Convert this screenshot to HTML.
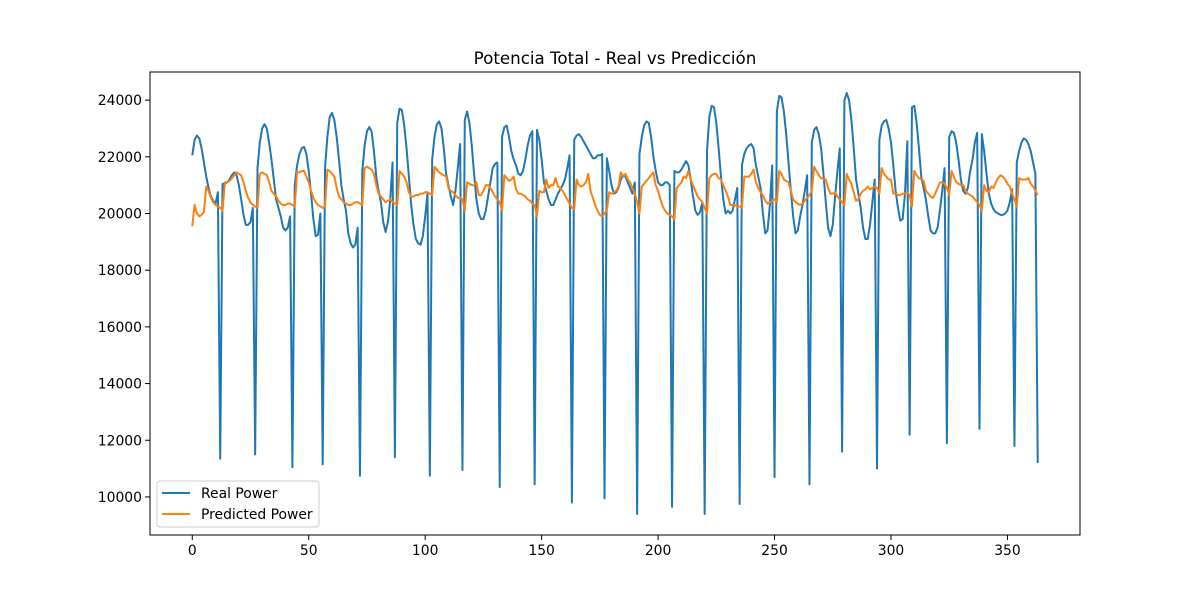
<!DOCTYPE html>
<html><head><meta charset="utf-8"><style>
body{margin:0;background:#fff}
svg text{font-family:"DejaVu Sans","Liberation Sans",sans-serif;fill:#000}
</style></head><body>
<svg id="chart" width="1200" height="600" xmlns="http://www.w3.org/2000/svg">
<rect width="1200" height="600" fill="#fff"/>
<text x="615" y="64" font-size="16.7" text-anchor="middle">Potencia Total - Real vs Predicción</text>
<g id="marks"></g>
<rect x="150" y="72" width="930" height="463" fill="none" stroke="#000" stroke-width="1"/>
<g id="axes"></g>
<g>
<rect x="157" y="481" width="162" height="46" rx="3" fill="#fff" fill-opacity="0.8" stroke="#ccc"/>
<line x1="162" y1="493" x2="190" y2="493" stroke="#1f77b4" stroke-width="2"/>
<text x="201" y="498" font-size="13.9">Real Power</text>
<line x1="162" y1="514" x2="190" y2="514" stroke="#ff7f0e" stroke-width="2"/>
<text x="201" y="519" font-size="13.9">Predicted Power</text>
</g>
</svg>
<script>
const realPower = [
22050,22600,22750,22650,22300,21800,21300,20900,20600,20450,20350,20750,11350,
21050,21050,21100,21200,21350,21450,21350,21000,20500,19950,19600,19600,19700,20200,11500,
21600,22500,23000,23150,23000,22500,21900,21200,20500,20200,19900,19500,19400,19500,19900,11050,
21000,21700,22100,22300,22350,22100,21500,20700,19800,19200,19250,20000,11150,
21600,22700,23400,23550,23300,22700,21900,21000,20500,20100,19300,18950,18800,18900,19500,10750,
21500,22400,22900,23050,22900,22200,21300,20800,20400,19700,19350,19700,20500,21800,11400,
23200,23700,23650,23100,22300,21300,20300,19600,19100,18950,18900,19200,19900,20700,10750,
21900,22700,23150,23250,23000,22300,21400,21000,20600,20300,20800,21600,22450,10950,
23300,23600,23200,22400,21400,20500,20000,19800,19800,20100,20600,21100,21600,21750,21800,10350,
22700,23050,23100,22700,22200,21900,21700,21400,21350,21500,21900,22400,22750,22900,10450,
22950,22600,21900,21100,20800,20500,20300,20300,20500,20700,20850,21000,21200,21600,22050,9800,
22600,22750,22800,22700,22550,22400,22250,22100,21950,21950,22050,22050,22100,9950,
21950,21500,21000,20700,20750,20900,21200,21350,21300,21100,20900,20700,21100,9400,
22100,22700,23100,23250,23200,22700,22000,21500,21100,21000,21000,21100,21100,21000,9650,
21500,21450,21450,21550,21700,21850,21700,21200,20600,20100,19950,20050,20400,9400,
22200,23400,23800,23750,23200,22300,21300,20500,20000,20100,20000,20100,20500,20900,9750,
21700,22100,22300,22400,22450,22300,21700,21300,20900,20000,19300,19400,20300,21700,10700,
23600,24150,24100,23600,22800,21800,20800,19900,19300,19400,19900,20300,20800,21350,10450,
22500,22950,23050,22800,22300,21400,20400,19500,19200,19600,20600,21500,22300,11600,
24000,24250,24000,23300,22300,21200,20700,20200,19500,19100,19100,19600,20400,21200,11000,
22600,23100,23250,23300,23000,22500,21700,20800,20200,19750,19800,20700,22550,12200,
23750,23800,23200,22300,21300,20900,20500,19900,19400,19300,19300,19500,20100,20800,21600,11900,
22700,22900,22850,22500,21900,21200,20800,20700,20900,21500,21900,22500,22850,12400,
22800,22200,21400,20700,20350,20150,20050,20000,19950,19950,20000,20100,20400,20850,11800,
21800,22200,22500,22650,22600,22450,22200,21800,21400,11200];
const predictedPower = [
19550,20300,20000,19900,19950,20050,20950,20800,20550,20400,20300,20250,20200,20100,
21100,21100,21150,21250,21350,21450,21400,21350,21100,20800,20550,20400,20300,20250,20200,
21400,21450,21400,21350,21100,20800,20700,20600,20450,20350,20300,20300,20350,20350,20300,20250,
21450,21450,21500,21500,21300,21100,20800,20550,20400,20300,20250,20200,20250,
21550,21500,21400,21300,20900,20600,20500,20400,20350,20300,20300,20350,20400,20400,20350,20300,
21600,21650,21600,21550,21400,21000,20700,20600,20500,20400,20450,20500,20400,20350,20300,
21500,21400,21300,21100,20750,20600,20600,20650,20650,20700,20700,20750,20750,20700,20650,
21650,21550,21450,21400,21350,21300,20900,20800,20750,20650,20550,20550,20500,20100,
21100,21050,21000,21000,21100,20650,20650,20800,21000,21000,20900,20750,20600,20500,20400,20100,
21350,21250,21150,21200,21300,20850,20700,20700,20650,20600,20500,20450,20350,20300,19900,
20800,20750,20750,21200,20900,21000,21000,21250,20950,20900,20800,20650,20500,20350,20200,20150,
21200,21000,20950,21000,21100,21400,20800,20550,20300,20100,19950,19900,20000,20100,
20750,20700,20750,20800,20950,21450,21300,21400,21200,21100,20900,20700,20400,20000,
20950,21050,21150,21250,21350,21450,21000,20800,20500,20250,20100,20000,19950,19900,19800,
20900,21000,21100,21300,21250,21500,21200,21000,20800,20600,20500,20400,20200,20000,
21250,21350,21400,21400,21250,21200,21000,20800,20600,20300,20300,20300,20250,20250,20200,
21300,21300,21300,21400,21550,21100,20900,20750,20650,20450,20350,20400,20450,20500,20400,
21500,21400,21200,21150,21100,20800,20500,20400,20350,20300,20350,20450,20550,20650,20800,
21650,21500,21350,21250,21200,21200,20900,20700,20700,20750,20600,20500,20400,20300,
21400,21200,21050,20750,20450,20500,20700,20800,20850,20950,20850,20900,20950,20900,20700,
21600,21400,21300,21200,21200,20700,20700,20650,20650,20700,20700,20750,20650,20250,
21500,21350,21250,21200,21150,20800,20700,20600,20550,20700,20900,21100,21100,21050,20900,20650,
21500,21300,21100,21050,21000,21000,20800,20700,20650,20600,20500,20400,20300,20100,
21000,20800,20750,20950,20900,21100,21250,21350,21300,21200,21050,20950,20700,20500,20250,
21250,21200,21200,21200,21250,21050,20950,20800,20650];
const xTicks = [0,50,100,150,200,250,300,350];
const yTicks = [10000,12000,14000,16000,18000,20000,22000,24000];

const NS="http://www.w3.org/2000/svg";
const n = Math.max(realPower.length,predictedPower.length)-1;
const allV = realPower.concat(predictedPower);
const vmin=Math.min(...allV), vmax=Math.max(...allV);
const x0=-0.05*n, x1=n*1.05, y0=vmin-0.05*(vmax-vmin), y1=vmax+0.05*(vmax-vmin);
const L=150,R=1080,T=72,B=535;
const sx=v=>L+(v-x0)/(x1-x0)*(R-L);
const sy=v=>B-(v-y0)/(y1-y0)*(B-T);
const marks=document.getElementById('marks');
function series(arr,color,name){
  const p=document.createElementNS(NS,'polyline');
  p.setAttribute('points',arr.map((v,i)=>sx(i).toFixed(2)+','+sy(v).toFixed(2)).join(' '));
  p.setAttribute('fill','none');p.setAttribute('stroke',color);p.setAttribute('stroke-width','2');
  p.setAttribute('stroke-linejoin','round');
  
  
  marks.appendChild(p);
}
series(realPower,'#1f77b4','real-power-line');
series(predictedPower,'#ff7f0e','predicted-power-line');
const axes=document.getElementById('axes');
xTicks.forEach(t=>{
  const x=sx(t);
  const l=document.createElementNS(NS,'line');
  l.setAttribute('x1',x);l.setAttribute('x2',x);l.setAttribute('y1',B);l.setAttribute('y2',B+5);l.setAttribute('stroke','#000');
  
  
  axes.appendChild(l);
  const tx=document.createElementNS(NS,'text');
  tx.setAttribute('x',x);tx.setAttribute('y',B+20);tx.setAttribute('text-anchor','middle');tx.setAttribute('font-size','13.9');
  tx.textContent=t;
  
  
  axes.appendChild(tx);
});
yTicks.forEach(t=>{
  const y=sy(t);
  const l=document.createElementNS(NS,'line');
  l.setAttribute('x1',L-5);l.setAttribute('x2',L);l.setAttribute('y1',y);l.setAttribute('y2',y);l.setAttribute('stroke','#000');
  
  
  axes.appendChild(l);
  const tx=document.createElementNS(NS,'text');
  tx.setAttribute('x',L-8);tx.setAttribute('y',y+5);tx.setAttribute('text-anchor','end');tx.setAttribute('font-size','13.9');
  tx.textContent=t;
  
  
  axes.appendChild(tx);
});
</script>
</body></html>
